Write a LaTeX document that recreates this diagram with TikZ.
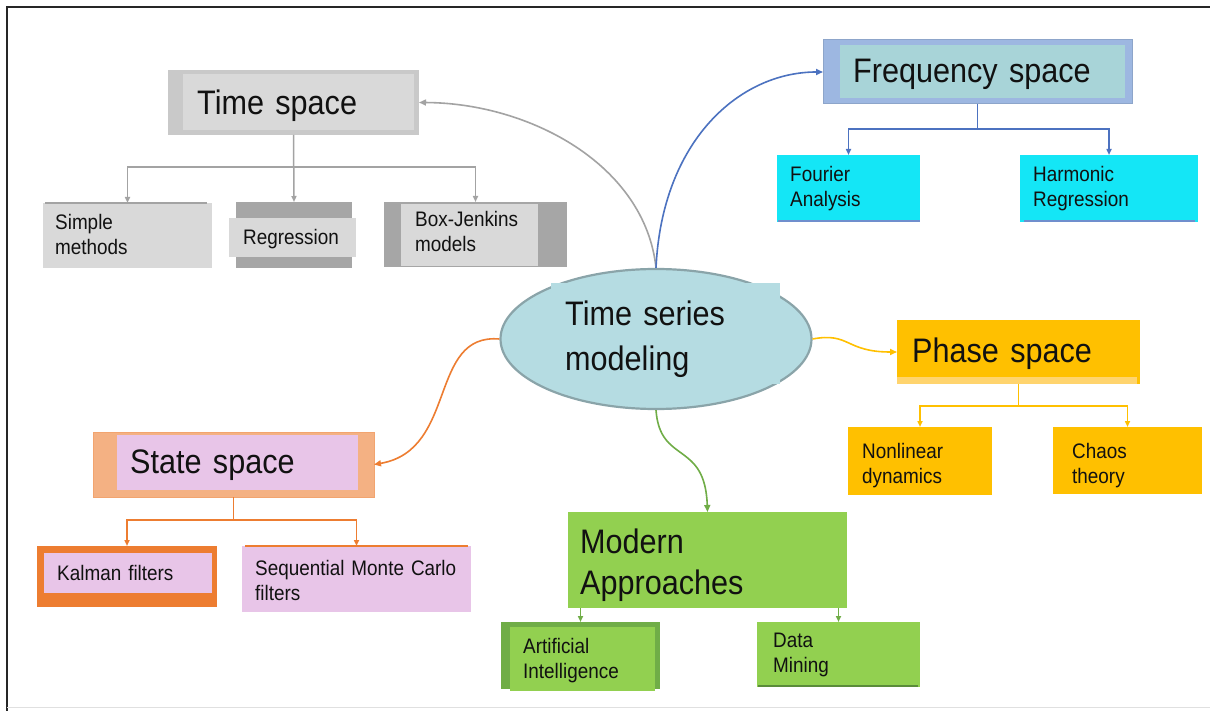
\documentclass[tikz,border=0pt]{standalone}
\usepackage{fontspec}
\setmainfont{Liberation Sans}[FakeStretch=0.9]
\usetikzlibrary{arrows.meta,shapes.geometric}
\definecolor{grayA}{HTML}{C9C9C9}
\definecolor{grayB}{HTML}{D9D9D9}
\definecolor{grayC}{HTML}{A6A6A6}
\definecolor{grayL}{HTML}{A3A3A3}
\definecolor{blueOut}{HTML}{9DB7E1}
\definecolor{blueIn}{HTML}{A8D4D8}
\definecolor{blueL}{HTML}{4C72C0}
\definecolor{cyanF}{HTML}{14E6F6}
\definecolor{ellF}{HTML}{B5DCE2}
\definecolor{ellD}{HTML}{8AA4A9}
\definecolor{gold}{HTML}{FFC000}
\definecolor{goldL}{HTML}{FFD46E}
\definecolor{salmon}{HTML}{F4B183}
\definecolor{pinkF}{HTML}{E8C5E8}
\definecolor{orangeD}{HTML}{ED7D31}
\definecolor{greenF}{HTML}{92D050}
\definecolor{greenD}{HTML}{70AD47}
\definecolor{greenDD}{HTML}{5A8C3A}
\definecolor{ink}{HTML}{111111}
\begin{document}
\begin{tikzpicture}[x=1pt,y=-1pt,
  box/.style={anchor=north west, inner sep=0pt, outer sep=0pt, draw=none},
  big/.style={font=\fontsize{34}{41}\selectfont, text=ink},
  bigtall/.style={font=\fontsize{34}{44}\selectfont, text=ink},
  small/.style={font=\fontsize{21}{25}\selectfont, text=ink},
  txt/.style={anchor=base west, inner sep=0pt, align=left, text width=#1},
  txt/.default=240pt,
  tip/.style={-{Triangle[length=6pt,width=5pt]}},
  conn/.style={line width=1.5pt, tip},
  curve/.style={line width=1.6pt, -{Triangle[length=7pt,width=6pt]}}
]
\useasboundingbox (0,0) rectangle (1210,711);
\fill[white] (0,0) rectangle (1210,711);
% frame
\draw[line width=2.4pt, color=black!85] (7,711) -- (7,7) -- (1210,7);
\draw[line width=1pt, color=black!12] (7,707) -- (1210,707);

% ---------- Time space ----------
\node[box, fill=grayA, minimum width=251pt, minimum height=65pt] (ts) at (168,70) {};
\fill[grayB] (183,74) rectangle (414,130);
\node[big, txt] (tst) at (197,115) {Time space};

\node[box, fill=grayB, minimum width=169pt, minimum height=65pt] (sm) at (43,203) {};
\draw[grayL, line width=2pt] (45,203) -- (207,203);
\node[small, txt] (smt) at (55,230) {Simple\\methods};

\node[box, fill=grayC, minimum width=116pt, minimum height=66pt] (rg) at (236,202) {};
\fill[grayB] (229,218) rectangle (356,257);
\node[small, txt] (rgt) at (243,245) {Regression};

\node[box, fill=grayC, minimum width=183pt, minimum height=65pt] (bj) at (384,202) {};
\fill[grayB] (401,204) rectangle (538,266);
\node[small, txt] (bjt) at (415,227) {Box-Jenkins\\models};

\draw[conn, grayL] (ts.south) -- ++(0,32) -| (sm.north);
\draw[conn, grayL] (ts.south) -- (rg.north);
\draw[conn, grayL] (ts.south) -- ++(0,32) -| (bj.north);

% ---------- Frequency space ----------
\node[box, fill=blueOut, draw=blueOut!90!black, line width=1pt, minimum width=309pt, minimum height=64pt] (fs) at (823,40) {};
\fill[blueIn] (840,45) rectangle (1125,98);
\node[big, txt] (fst) at (853,83) {Frequency space};

\node[box, fill=cyanF, minimum width=143pt, minimum height=67pt] (fa) at (777,155) {};
\draw[blueL!80, line width=1.5pt] (778,221) -- (920,221);
\node[small, txt] (fat) at (790,182) {Fourier\\Analysis};

\node[box, fill=cyanF, minimum width=178pt, minimum height=67pt] (hr) at (1020,155) {};
\draw[blueL!80, line width=1.5pt] (1024,221) -- (1195,221);
\node[small, txt] (hrt) at (1033,182) {Harmonic\\Regression};

\draw[conn, blueL] (fs.south) -- ++(0,25) -| (fa.north);
\draw[conn, blueL] (fs.south) -- ++(0,25) -| (hr.north);

% ---------- Central ellipse ----------
\node[ellipse, fill=ellF, draw=ellD, line width=2.2pt, minimum width=311pt, minimum height=140pt, inner sep=0pt] (tsm) at (656,339) {};
\fill[ellF] (551,283) rectangle (780,384);
\node[bigtall, txt] (tsmt) at (565,326) {Time series\\modeling};

% ---------- Phase space ----------
\node[box, fill=gold, minimum width=243pt, minimum height=64pt] (ps) at (897,320) {};
\fill[goldL] (897,377) rectangle (1137,384);
\node[big, txt] (pst) at (912,362) {Phase space};

\node[box, fill=gold, minimum width=144pt, minimum height=68pt] (nd) at (848,427) {};
\node[small, txt] (ndt) at (862,458) {Nonlinear\\dynamics};

\node[box, fill=gold, minimum width=149pt, minimum height=67pt] (ct) at (1053,427) {};
\node[small, txt] (ctt) at (1072,458) {Chaos\\theory};

\draw[conn, gold] (ps.south) -- ++(0,22) -| (nd.north);
\draw[conn, gold] (ps.south) -- ++(0,22) -| (ct.north);

% ---------- State space ----------
\node[box, fill=salmon, draw=orangeD!70, line width=0.8pt, minimum width=281pt, minimum height=65pt] (ss) at (93,432) {};
\fill[pinkF] (117,435) rectangle (358,490);
\node[big, txt] (sst) at (130,473) {State space};

\node[box, fill=orangeD, minimum width=180pt, minimum height=61pt] (kf) at (37,546) {};
\fill[pinkF] (44,553) rectangle (212,593);
\node[small, txt] (kft) at (57,580) {Kalman filters};

\node[box, fill=pinkF, minimum width=229pt, minimum height=66pt] (smc) at (242,546) {};
\draw[orangeD, line width=1.5pt] (245,546) -- (468,546);
\node[small, txt=225pt] (smct) at (255,575) {Sequential Monte Carlo\\filters};

\draw[conn, orangeD] (ss.south) -- ++(0,23) -| (kf.north);
\draw[conn, orangeD] (ss.south) -- ++(0,23) -| (smc.north);

% ---------- Modern approaches ----------
\node[box, fill=greenF, minimum width=279pt, minimum height=96pt] (ma) at (568,512) {};
\node[big, txt] (mat) at (580,553) {Modern\\Approaches};

\node[box, fill=greenD, minimum width=159pt, minimum height=67pt] (ai) at (501,622) {};
\fill[greenF] (510,627) rectangle (655,691);
\node[small, txt] (ait) at (523,653) {Artificial\\Intelligence};

\node[box, fill=greenF, minimum width=163pt, minimum height=65pt] (dm) at (757,622) {};
\draw[greenDD, line width=1.5pt] (758,686) -- (918,686);
\node[small, txt] (dmt) at (773,647) {Data\\Mining};

\draw[conn, greenD] (ai.north |- ma.south) -- (ai.north);
\draw[conn, greenD] (dm.north |- ma.south) -- (dm.north);

% ---------- curved connectors ----------
\draw[curve, grayL] (tsm.north) .. controls (645,165) and (530,103) .. (ts.east);
\draw[curve, blueL] (tsm.north) .. controls (662,140) and (740,72) .. (fs.west);
\draw[curve, orangeD] (tsm.west) .. controls (428,333) and (458,450) .. (ss.east);
\draw[curve, gold] (tsm.east) .. controls (850,332) and (845,352) .. (ps.west);
\draw[curve, greenD] (tsm.south) .. controls (660,465) and (705,440) .. (ma.north);
\end{tikzpicture}
\end{document}
